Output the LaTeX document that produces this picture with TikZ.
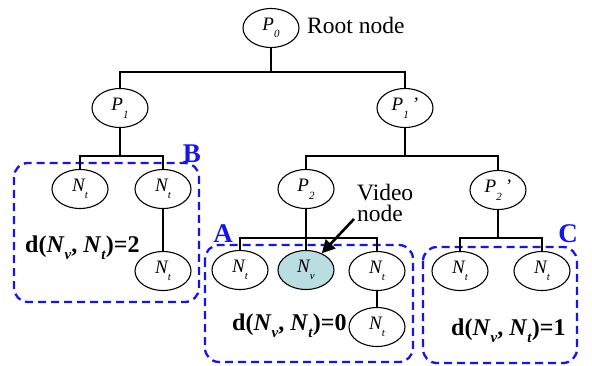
\documentclass[tikz,border=0pt]{standalone}
\usepackage{fontspec}
\setmainfont{Liberation Serif}
\usetikzlibrary{arrows.meta,shapes.geometric}
\definecolor{nvfill}{RGB}{185,221,225}
\definecolor{boxblue}{RGB}{20,20,240}
\newcommand{\sbs}[1]{\raisebox{-0.4em}{\fontsize{11}{11}\selectfont #1}}
\newcommand{\dsb}[1]{\raisebox{-0.3em}{\fontsize{15}{15}\selectfont #1}}
\begin{document}
\begin{tikzpicture}[x=1pt,y=-1pt,
  tn/.style={draw,ellipse,fill=white,line width=1.1pt,minimum width=56pt,minimum height=39pt,inner sep=0pt,font=\fontsize{19}{19}\selectfont\itshape},
  edge/.style={line width=1.1pt},
  grp/.style={draw=boxblue,line width=2.3pt,dash pattern=on 8pt off 5pt,rounded corners=14pt},
  glab/.style={text=boxblue,inner sep=0pt,font=\fontsize{27}{27}\selectfont\bfseries},
  dist/.style={inner sep=0pt,anchor=base west,font=\fontsize{24}{24}\selectfont\bfseries},
  txt/.style={inner sep=0pt,font=\fontsize{23.5}{21}\selectfont}]
\useasboundingbox (0,0) rectangle (592,365);
% groups
\draw[grp] (14,163) rectangle (199,302);
\draw[grp] (205,245) rectangle (413,362);
\draw[grp] (423,247) rectangle (577,363);
\node[glab] (labB) at (192,154) {B};
\node[glab] (labA) at (223,234) {A};
\node[glab] (labC) at (568,234) {C};
% nodes
\node[tn] (P0) at (271,28) {P\sbs{0}};
\node[tn] (P1) at (120,108) {P\sbs{1}};
\node[tn] (P1p) at (405,108) {P\sbs{1}\,’};
\node[tn] (P2) at (306,189) {P\sbs{2}};
\node[tn] (P2p) at (498,190) {P\sbs{2}\,’};
\node[tn] (B1) at (80,189) {N\sbs{t}};
\node[tn] (B2) at (163,189) {N\sbs{t}};
\node[tn] (B3) at (163,271) {N\sbs{t}};
\node[tn] (A1) at (240,270) {N\sbs{t}};
\node[tn,fill=nvfill] (Nv) at (306,270) {N\sbs{v}};
\node[tn] (A2) at (377,271) {N\sbs{t}};
\node[tn] (A3) at (377,327) {N\sbs{t}};
\node[tn] (C1) at (460,271) {N\sbs{t}};
\node[tn] (C2) at (542,271) {N\sbs{t}};
% texts
\node[txt,anchor=base west] (root) at (307,33) {Root node};
\node[txt,align=left,anchor=north west] (vid) at (357,184) {Video\\node};
\node[dist] (dB) at (25,252) {d(\textit{N}\dsb{\textit{v}}, \textit{N}\dsb{\textit{t}})=2};
\node[dist] (dA) at (232,330) {d(\textit{N}\dsb{\textit{v}}, \textit{N}\dsb{\textit{t}})=0};
\node[dist] (dC) at (451,335) {d(\textit{N}\dsb{\textit{v}}, \textit{N}\dsb{\textit{t}})=1};
% edges
\draw[edge] (P0.south) -- (P0.south |- 0,72) -| (P1.north);
\draw[edge] (P0.south |- 0,72) -| (P1p.north);
\draw[edge] (P1.south) -- (P1.south |- 0,156) -| (B1.north);
\draw[edge] (P1.south |- 0,156) -| (B2.north);
\draw[edge] (B2) -- (B3);
\draw[edge] (P1p.south) -- (P1p.south |- 0,156) -| (P2.north);
\draw[edge] (P1p.south |- 0,156) -| (P2p.north);
\draw[edge] (P2.south) -- (Nv.north);
\draw[edge] (P2.south |- 0,238) -| (A1.north);
\draw[edge] (P2.south |- 0,238) -| (A2.north);
\draw[edge] (A2) -- (A3);
\draw[edge] (P2p.south) -- (P2p.south |- 0,238) -| (C1.north);
\draw[edge] (P2p.south |- 0,238) -| (C2.north);
% arrow
\coordinate (vs) at (354,219);
\draw[line width=2.6pt,-{Triangle[length=13pt,width=13pt]}] (vs) -- (Nv);
\end{tikzpicture}
\end{document}
